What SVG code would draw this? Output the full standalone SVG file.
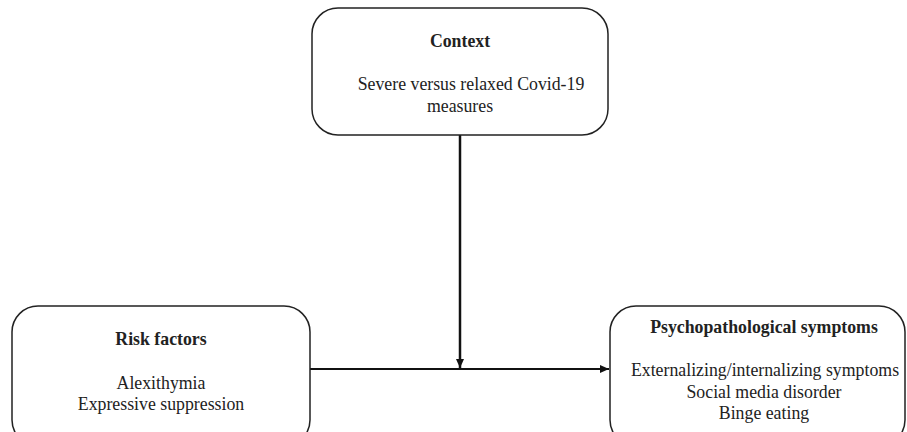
<svg xmlns="http://www.w3.org/2000/svg" width="907" height="432" viewBox="0 0 907 432">
<style>
.box{fill:#fff;stroke:#222;stroke-width:1.5}
.t{font-family:"Liberation Serif","Times New Roman",serif;font-size:17.8px;fill:#222;text-anchor:middle}
.b{font-weight:bold}
.c{stroke:#111;fill:none}
</style>
<defs>
<marker id="ah" markerWidth="9" markerHeight="8" refX="9" refY="4" orient="auto" markerUnits="userSpaceOnUse">
<path d="M0,0 L9,4 L0,8 Z" fill="#111"/>
</marker>
</defs>
<rect width="907" height="432" fill="#fff"/>
<g id="connectors">
<line class="c" x1="460" y1="135" x2="460" y2="368" stroke-width="2.5" marker-end="url(#ah)"/>
<line class="c" x1="310" y1="369" x2="609" y2="369" stroke-width="1.8" marker-end="url(#ah)"/>
</g>
<g id="context">
<rect class="box" x="312" y="8" width="296" height="127" rx="26"/>
<text class="t b" x="460" y="47">Context</text>
<text class="t" x="471" y="90">Severe versus relaxed Covid-19</text>
<text class="t" x="460" y="112">measures</text>
</g>
<g id="risk">
<rect class="box" x="12" y="306" width="298" height="140" rx="26"/>
<text class="t b" x="161" y="345">Risk factors</text>
<text class="t" x="161" y="389">Alexithymia</text>
<text class="t" x="161" y="410">Expressive suppression</text>
</g>
<g id="psych">
<rect class="box" x="610" y="306" width="295" height="140" rx="26"/>
<text class="t b" x="764" y="333">Psychopathological symptoms</text>
<text class="t" x="765" y="376">Externalizing/internalizing symptoms</text>
<text class="t" x="764" y="398">Social media disorder</text>
<text class="t" x="764" y="419">Binge eating</text>
</g>
</svg>
